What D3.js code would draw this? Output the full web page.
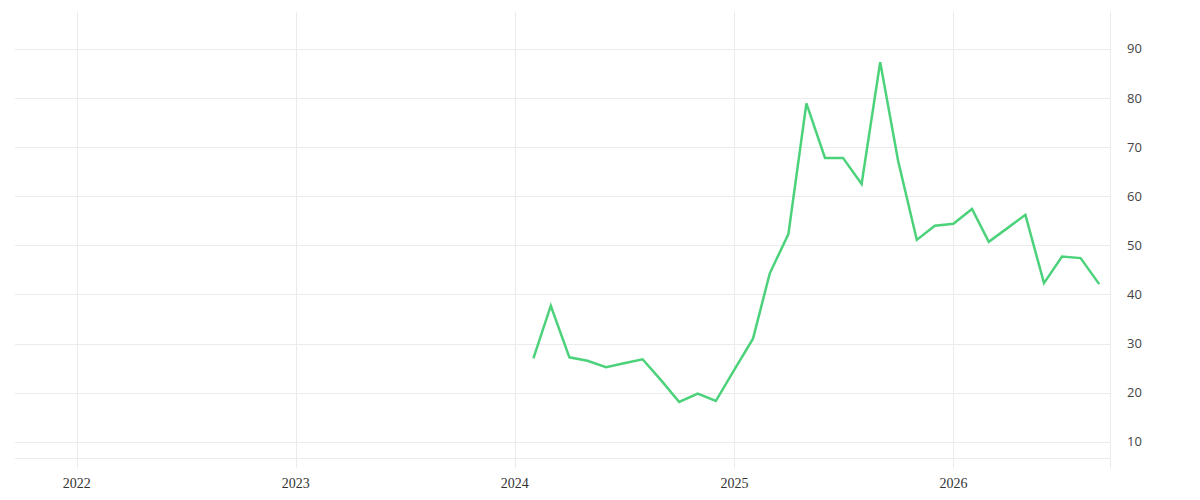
<!DOCTYPE html>
<html>
<head>
<meta charset="utf-8">
<script src="https://cdn.jsdelivr.net/npm/d3@7"></script>
<style>
  body { margin: 0; background: #fff; }
  .grid line { stroke: #ebebeb; stroke-width: 1; shape-rendering: crispEdges; }
  .ylab { font-family: "Open Sans", sans-serif; font-size: 13px; fill: #444; }
  .xlab { font-family: "Liberation Serif", serif; font-size: 14px; fill: #333; }
</style>
</head>
<body>
<div id="chart"></div>
<script>
// monthly values, Feb 2024 .. Sep 2026
const months = [
  "2024-02", "2024-03", "2024-04", "2024-05", "2024-06", "2024-07", "2024-08",
  "2024-09", "2024-10", "2024-11", "2024-12", "2025-01", "2025-02", "2025-03",
  "2025-04", "2025-05", "2025-06", "2025-07", "2025-08", "2025-09", "2025-10",
  "2025-11", "2025-12", "2026-01", "2026-02", "2026-03", "2026-04", "2026-05",
  "2026-06", "2026-07", "2026-08", "2026-09"
];
const values = [
  27.0, 37.7, 27.2, 26.5, 25.2, 26.0, 26.8,
  22.5, 18.1, 19.8, 18.3, 24.7, 31.0, 44.3,
  52.3, 78.9, 67.8, 67.8, 62.5, 87.3, 67.1,
  51.1, 54.0, 54.4, 57.4, 50.7, 53.5, 56.2,
  42.3, 47.7, 47.4, 42.1
];
const yTicks = [10, 20, 30, 40, 50, 60, 70, 80, 90];
const xTicks = ["2022", "2023", "2024", "2025", "2026"];

const W = 1200, H = 500;
const pLeft = 15, pRight = 1110, pTop = 12, pBottom = 458;

const parse = d3.utcParse("%Y-%m");
const data = months.map((m, i) => ({ date: parse(m), value: values[i] }));

const x = d3.scaleUtc()
  .domain([new Date(Date.UTC(2021, 8, 20)), new Date(Date.UTC(2026, 8, 19))])
  .range([pLeft, pRight]);
const y = d3.scaleLinear()
  .domain([6.7, 97.5])
  .range([pBottom, pTop]);

const svg = d3.select("#chart").append("svg")
  .attr("width", W)
  .attr("height", H);

const grid = svg.append("g").attr("class", "grid");

// horizontal gridlines
grid.selectAll("line.h")
  .data(yTicks)
  .enter().append("line")
  .attr("class", "h")
  .attr("x1", pLeft).attr("x2", pRight)
  .attr("y1", d => Math.round(y(d)) + 0.5)
  .attr("y2", d => Math.round(y(d)) + 0.5);

// baseline
grid.append("line")
  .attr("x1", pLeft).attr("x2", pRight)
  .attr("y1", pBottom + 0.5).attr("y2", pBottom + 0.5);

// vertical year lines
const years = xTicks.map(t => d3.utcParse("%Y")(t));
grid.selectAll("line.v")
  .data(years)
  .enter().append("line")
  .attr("class", "v")
  .attr("x1", d => Math.round(x(d)) + 0.5)
  .attr("x2", d => Math.round(x(d)) + 0.5)
  .attr("y1", pTop).attr("y2", pBottom + 10);

// right edge
grid.append("line")
  .attr("x1", pRight + 0.5).attr("x2", pRight + 0.5)
  .attr("y1", pTop).attr("y2", pBottom + 10);

// y labels on the right
svg.selectAll("text.ylab")
  .data(yTicks)
  .enter().append("text")
  .attr("class", "ylab")
  .attr("x", pRight + 17)
  .attr("y", d => y(d))
  .attr("dy", "0.35em")
  .text(d => d);

// x labels
svg.selectAll("text.xlab")
  .data(years)
  .enter().append("text")
  .attr("class", "xlab")
  .attr("x", d => x(d))
  .attr("y", pBottom + 30)
  .attr("text-anchor", "middle")
  .text(d => d3.utcFormat("%Y")(d));

const line = d3.line()
  .x(d => x(d.date))
  .y(d => y(d.value));

svg.append("path")
  .datum(data)
  .attr("d", line)
  .attr("fill", "none")
  .attr("stroke", "#4cd27a")
  .attr("stroke-width", 2.5)
  .attr("stroke-linejoin", "miter");
</script>
</body>
</html>
